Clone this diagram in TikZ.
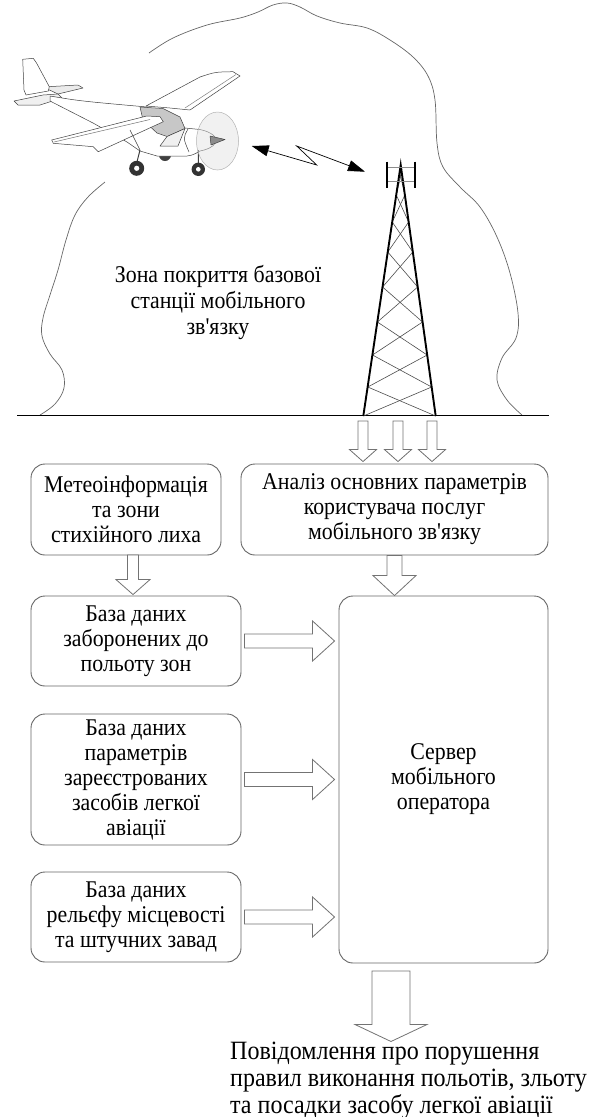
\documentclass[tikz,border=0pt]{standalone}
\usepackage{fontspec}
\setmainfont{Liberation Serif}[Ligatures=TeXOff, FakeStretch=0.91]
\usetikzlibrary{arrows.meta,calc}

% vertical block arrow: #1 top point, #2 tip, #3 half shaft, #4 half head, #5 head length
\newcommand\blockdown[5]{%
  \draw[blk] let \p1=(#1), \p2=(#2) in
    (\x1-#3pt,\y1) -- (\x1+#3pt,\y1) -- (\x1+#3pt,\y2+#5pt) -- (\x1+#4pt,\y2+#5pt)
    -- (\x1,\y2) -- (\x1-#4pt,\y2+#5pt) -- (\x1-#3pt,\y2+#5pt) -- cycle;}
% horizontal block arrow: #1 tail point, #2 tip, #3 half shaft, #4 half head, #5 head length
\newcommand\blockright[5]{%
  \draw[blk] let \p1=(#1), \p2=(#2) in
    (\x1,\y1+#3pt) -- (\x2-#5pt,\y1+#3pt) -- (\x2-#5pt,\y1+#4pt) -- (\x2,\y1)
    -- (\x2-#5pt,\y1-#4pt) -- (\x2-#5pt,\y1-#3pt) -- (\x1,\y1-#3pt) -- cycle;}

\begin{document}
\begin{tikzpicture}[x=1pt,y=-1pt,
  box/.style={draw=black!60, line width=0.9pt, rounded corners=14pt, fill=white,
    align=center, inner sep=0pt, font=\fontsize{24}{25}\selectfont},
  blk/.style={draw=black!55, line width=0.8pt, fill=white},
  cloud/.style={draw=black!60, line width=0.7pt},
  leg/.style={line width=1.9pt, black},
  lattice/.style={line width=0.6pt, black!70},
  pl/.style={draw=black!75, line width=0.5pt, line join=round},
  radio/.style={line width=0.7pt, black, {Triangle[length=17pt,width=11pt]}-{Triangle[length=17pt,width=11pt]}}]

\path[use as bounding box] (0,0) rectangle (597,1117);

% ---------------- coverage zone ----------------
\draw[cloud] plot[smooth, tension=0.6] coordinates {
  (40,415) (55,404) (64,388) (62,370) (50,354) (42,336) (43,318) (50,295)
  (58,270) (66,240) (75,215) (88,197) (105,182)};
\draw[cloud] plot[smooth, tension=0.6] coordinates {
  (149,53) (173,38) (207,25) (240,18) (258,12) (273,5) (287,3) (300,7) (317,16)
  (340,23) (367,28) (390,40) (413,57) (428,76) (435,100) (437,143) (443,167)
  (460,187) (480,207) (497,237) (510,273) (518,313) (516,338) (502,358)
  (497,380) (507,400) (522,415)};

\node[font=\fontsize{24}{26}\selectfont, align=center] (zone) at (218,302)
  {Зона покриття базової\\станції мобільного\\зв'язку};

% ground
\draw[line width=1.8pt] (17,415.5) coordinate (gl) -- (549,415.5) coordinate (gr);

% ---------------- tower ----------------
\coordinate (apex) at (400.7,165);
\coordinate (footL) at (363.3,416);
\coordinate (footR) at (435.7,416);
\foreach \a/\b in {172/195,195/222,222/252,252/287,287/322,322/355,355/387,387/416}{
  \draw[lattice] ({400.7-0.1484*(\a-165)},\a) -- ({400.7+0.1393*(\b-165)},\b);
  \draw[lattice] ({400.7+0.1393*(\a-165)},\a) -- ({400.7-0.1484*(\b-165)},\b);
}
\draw[leg] (footL) -- (apex) -- (footR);
\draw[line width=1.1pt, black!45] (387.3,167.3) -- (415,167.3) (387.3,181.7) -- (415,181.7);
\draw[line width=2.3pt] (387.3,161.7) -- (387.3,188.3) (415,161.7) -- (415,188.3);

% ---------------- aircraft ----------------
\begin{scope}
  % far wheel
  \fill[black!75] (165,155) circle (6);
  % far wing
  \draw[pl, fill=white] (146,106) -- (200,77) .. controls (215,72) .. (233,71.7)
     -- (240,76) -- (190,110) -- (170,108) -- cycle;
  \draw[pl, black!50] (185,108) -- (236,74.5);
  % tail surfaces
  \draw[pl, fill=black!8] (43,87) -- (78,85) -- (83,88) -- (58,94) -- cycle;
  \draw[pl, fill=white] (22.7,59.3) -- (33.3,58.3) -- (36.7,63.3) -- (49.3,86.7)
     -- (48.3,91) -- (26,95) -- (24,90) -- cycle;
  \draw[pl, fill=black!6] (14,101) -- (43,95) -- (58,94) -- (62,98) -- (40,105)
     -- (18,105) -- cycle;
  % fuselage
  \draw[pl, fill=white] (50,96) .. controls (80,101) .. (147,107) -- (160,115)
     -- (185,128) -- (200,129.5) .. controls (212,132) and (218,138) .. (216,142)
     .. controls (213,148) and (205,150) .. (200,151) .. controls (193,155) .. (187,156)
     -- (157,156) -- (140,151) -- (127,142) -- (93,123) -- (50,101) -- cycle;
  % cabin with glazing
  \draw[pl, fill=black!22] (140,107) -- (163,108.5) -- (180,117) -- (185,128.5)
     -- (167,136.5) -- (157,133) -- (143,120) -- cycle;
  \draw[pl, fill=black!6] (167,136.5) -- (185,128.5) .. controls (182,138) .. (178,146)
     -- (160,146) -- cycle;
  \draw[pl] (188,129) .. controls (183,138) .. (189,152);
  % near wing
  \draw[pl, fill=white] (51.7,140) -- (146.7,116) -- (160,116.7) -- (163.3,121.7)
     -- (98.3,151.7) -- (93.3,146.7) -- (53.3,143.3) -- cycle;
  \draw[pl, black!55] (54,142) -- (150,119.5);
  \draw[pl] (130,130) -- (140,150);
  % gear
  \draw[pl, line width=1pt] (140,150) -- (136.7,163) (198.3,150) -- (198.3,163);
  \fill[black!80] (136.7,168.3) circle (7.5);
  \fill[white] (136.7,168.3) circle (2.6);
  \fill[black!80] (198.3,169.3) circle (6.7);
  \fill[white] (198.3,169.3) circle (2.3);
  % propeller disc and spinner
  \draw[black!30, fill=black!12, fill opacity=0.45, line width=0.5pt]
     (217.5,141) ellipse [x radius=21, y radius=29];
  \draw[pl, fill=black!45] (210,136) -- (225,139.5) -- (211,145) -- cycle;
\end{scope}

% radio link
\coordinate (la) at (251.7,146);
\coordinate (lb) at (316.7,165);
\coordinate (lc) at (296.7,146);
\coordinate (ld) at (365,171.7);
\draw[radio] (la) -- (lb) -- (lc) -- (ld);

% ---------------- blocks ----------------
\node[box, minimum width=190, minimum height=91] (meteo) at (126,509.5)
  {Метеоінформація\\та зони\\стихійного лиха};
\node[box, minimum width=307, minimum height=91] (analysis) at (394.5,509.5)
  {Аналіз основних параметрів\\користувача послуг\\мобільного зв'язку};
\node[box, minimum width=210, minimum height=90] (zones) at (136,641)
  {База даних\\заборонених до\\польоту зон};
\node[box, minimum width=210, minimum height=131] (params) at (136,779.5)
  {База даних\\параметрів\\зареєстрованих\\засобів легкої\\авіації};
\node[box, minimum width=210, minimum height=90] (relief) at (136,917)
  {База даних\\рельєфу місцевості\\та штучних завад};
\node[box, minimum width=209, minimum height=367] (server) at (443.5,779.5)
  {Сервер\\мобільного\\оператора};

\node[anchor=north west, inner sep=0pt, align=left, font=\fontsize{26.4}{27}\selectfont]
  (msg) at (230,1041.5)
  {Повідомлення про порушення\\правил виконання польотів, зльоту\\та посадки засобу легкої авіації};

% ---------------- block arrows ----------------
\foreach \i/\x in {1/363,2/398,3/432}{
  \coordinate (g\i) at (\x,421);
  \blockdown{g\i}{$(g\i |- analysis.north)+(0,-2)$}{5}{13.5}{12}
}
\coordinate (m1) at (133,555);
\blockdown{m1}{$(m1 |- zones.north)+(0,-1)$}{5.5}{17}{15}
\blockdown{analysis.south}{$(analysis.south |- server.north)$}{7.5}{21.5}{20}

\blockright{$(zones.east)+(3,0)$}{$(server.west |- zones.east)+(-4,0)$}{7}{20}{22}
\blockright{$(params.east)+(3,0)$}{$(server.west |- params.east)+(-4,0)$}{7}{20}{22}
\blockright{$(relief.east)+(3,0)$}{$(server.west |- relief.east)+(-4,0)$}{7}{20}{22}

\coordinate (s1) at (391,971);
\blockdown{s1}{$(s1 |- msg.north)$}{19}{36}{17}

\end{tikzpicture}
\end{document}
